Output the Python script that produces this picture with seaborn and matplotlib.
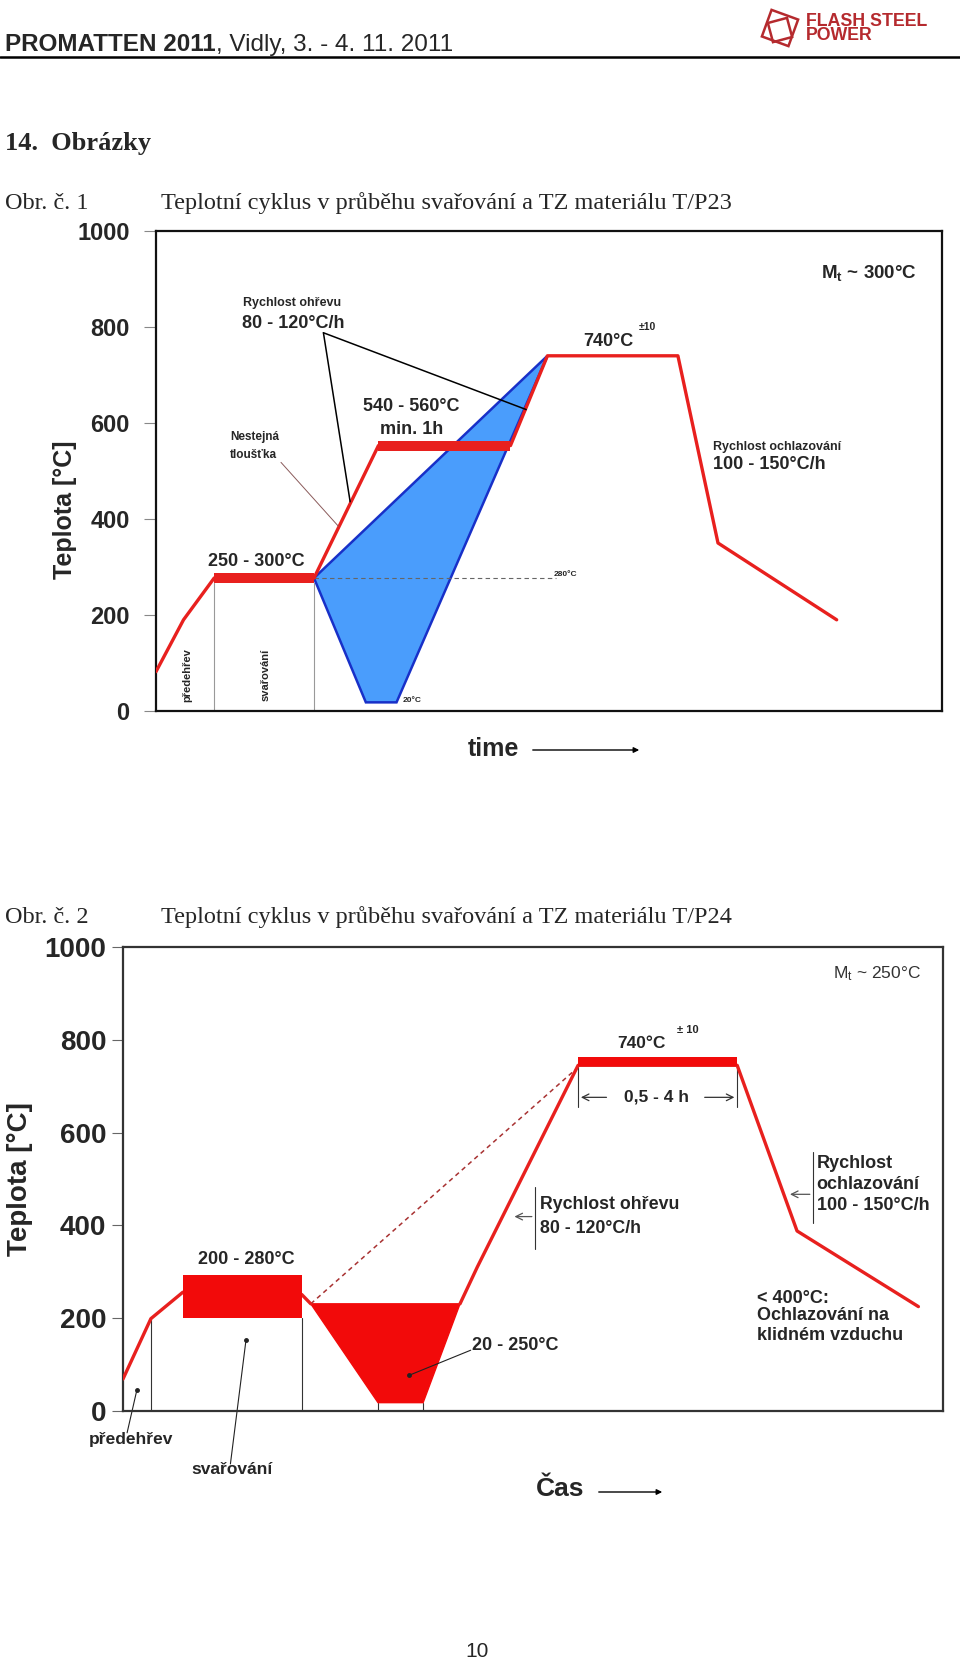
import matplotlib
matplotlib.use("Agg")
import matplotlib.pyplot as plt
import numpy as np
import pandas as pd
import seaborn as sns
from matplotlib.patches import Polygon, FancyArrowPatch

# ---------------- data ----------------
# Obr. 1 (T/P23)
c1_time = [0, 3.5, 7.4, 20.1, 28.3, 45.1, 49.8, 66.4, 71.5, 86.6]
c1_temp = [82, 190, 277, 277, 553, 553, 740, 740, 350, 190]
c1_bar_low = [7.4, 20.1]        # 250-300 °C hold
c1_bar_low_temp = [266, 288]
c1_bar_mid = [28.3, 45.1]       # 540-560 °C hold
c1_bar_mid_temp = [542, 563]
c1_blue_time = [20.1, 49.8, 30.6, 26.7]
c1_blue_temp = [277, 740, 18, 18]
c1_dash_temp = 277
c1_dash_time = [20.1, 50.9]
c1_vlines = [7.4, 20.1]
c1_yticks = [0, 200, 400, 600, 800, 1000]

# Obr. 2 (T/P24)
c2_time_a = [0, 3.4, 7.3, 21.8, 22.9]
c2_temp_a = [69, 199, 256, 251, 231]
c2_time_b = [41.1, 43.2, 55.5, 74.9, 82.2, 97.0]
c2_temp_b = [231, 310, 745, 745, 388, 225]
c2_rect_time = [7.3, 21.8]
c2_rect_temp = [200, 293]
c2_bar_time = [55.5, 74.9]
c2_bar_temp = [743, 762]
c2_trap_time = [22.9, 41.1, 36.6, 31.1]
c2_trap_temp = [231, 231, 18, 18]
c2_dash_time = [22.9, 55.5]
c2_dash_temp = [231, 741]
c2_vlines = [(3.4, 199), (21.8, 200), (31.1, 18), (36.6, 18)]
c2_yticks = [0, 200, 400, 600, 800, 1000]

# ---------------- style ----------------
sns.set_theme(style="white")
plt.rcParams["font.family"] = ["Liberation Sans", "DejaVu Sans"]
plt.rcParams["mathtext.fontset"] = "custom"
plt.rcParams["mathtext.rm"] = "Liberation Sans"
plt.rcParams["mathtext.bf"] = "Liberation Sans:bold"
plt.rcParams["mathtext.it"] = "Liberation Sans:italic"

RED = "#e8201e"
FILLRED = "#f20a0a"
BLUE = "#4a9dfc"
DBLUE = "#1830c8"

W, H = 960, 1663
fig = plt.figure(figsize=(9.6, 16.63), dpi=100)
fig.patch.set_facecolor("white")


def fx(x):
    return x / W


def fy(y):
    return 1 - y / H


# ---------------- page texts ----------------
r = fig.canvas.get_renderer()
t1 = fig.text(fx(5), fy(51), "PROMATTEN 2011", fontsize=17.5, fontweight="bold",
              va="baseline", ha="left")
bb = t1.get_window_extent(renderer=r)
fig.text(bb.x1 / W, fy(51), ", Vidly, 3. - 4. 11. 2011", fontsize=17.5,
         va="baseline", ha="left")
fig.add_artist(plt.Line2D([0, 1], [fy(57), fy(57)], transform=fig.transFigure,
                          color="black", lw=1.8))
# logo
logo_col = "#b52a2e"
for (cx, cy, s, a) in [(780, 28, 20, 20), (780, 30, 14, -15)]:
    ang = np.deg2rad(a + np.array([45, 135, 225, 315]))
    pts = [(fx(cx + s * np.cos(t)), fy(cy + s * np.sin(t))) for t in ang]
    fig.add_artist(Polygon(pts, closed=True, fill=False, edgecolor=logo_col,
                           lw=1.8, transform=fig.transFigure))
fig.text(fx(806), fy(26), "FLASH STEEL", fontsize=12.8, fontweight="bold",
         color=logo_col, va="baseline")
fig.text(fx(806), fy(40), "POWER", fontsize=12.8, fontweight="bold",
         color=logo_col, va="baseline")

serif = ["Liberation Serif", "DejaVu Serif"]
fig.text(fx(5), fy(150), "14.  Obrázky", fontsize=19, fontweight="bold",
         family=serif, va="baseline")
fig.text(fx(5), fy(209), "Obr. č. 1", fontsize=17.5, family=serif, va="baseline")
fig.text(fx(161), fy(209), "Teplotní cyklus v průběhu svařování a TZ materiálu T/P23",
         fontsize=17.5, family=serif, va="baseline")
fig.text(fx(5), fy(923), "Obr. č. 2", fontsize=17.5, family=serif, va="baseline")
fig.text(fx(161), fy(923), "Teplotní cyklus v průběhu svařování a TZ materiálu T/P24",
         fontsize=17.5, family=serif, va="baseline")
fig.text(fx(477), fy(1657), "10", fontsize=15, ha="center", va="baseline")

# ---------------- chart 1 ----------------
ax1 = fig.add_axes([fx(156), fy(711), 786 / W, 480 / H])
ax1.set_xlim(0, 100)
ax1.set_ylim(0, 1000)

ax1.add_patch(Polygon(list(zip(c1_blue_time, c1_blue_temp)), closed=True,
                      facecolor=BLUE, edgecolor=DBLUE, lw=1.8, zorder=2))
ax1.plot(c1_dash_time, [c1_dash_temp] * 2, ls=(0, (4, 3)), color="#666", lw=0.8, zorder=3)
for v in c1_vlines:
    ax1.plot([v, v], [0, c1_bar_low_temp[0]], color="#999", lw=0.8, zorder=1)

df1 = pd.DataFrame({"time": c1_time, "temp": c1_temp})
sns.lineplot(data=df1, x="time", y="temp", sort=False, color=RED, lw=2.4,
             ax=ax1, zorder=4, estimator=None)
ax1.fill_between(c1_bar_low, c1_bar_low_temp[0], c1_bar_low_temp[1], color=RED,
                 lw=0, zorder=5)
ax1.fill_between(c1_bar_mid, c1_bar_mid_temp[0], c1_bar_mid_temp[1], color=RED,
                 lw=0, zorder=5)

# annotation lines
ax1.plot([21.3, 24.7], [788, 436], color="black", lw=1.1, zorder=6)
ax1.plot([21.3, 47.1], [788, 628], color="black", lw=1.1, zorder=6)
ax1.plot([15.9, 23.2], [518, 385], color="#8a5a5a", lw=0.7, zorder=6)

ax1.text(11.1, 850, "Rychlost ohřevu", fontsize=9, fontweight="bold", va="center")
ax1.text(10.9, 808, "80 - 120°C/h", fontsize=13, fontweight="bold", va="center")
ax1.text(9.4, 571, "Nestejná", fontsize=8.5, fontweight="bold", va="center")
ax1.text(9.4, 533, "tloušťka", fontsize=8.5, fontweight="bold", va="center")
ax1.text(26.3, 635, "540 - 560°C", fontsize=13, fontweight="bold", va="center")
ax1.text(28.5, 586, "min. 1h", fontsize=13, fontweight="bold", va="center")
ax1.text(6.6, 312, "250 - 300°C", fontsize=13, fontweight="bold", va="center")
ax1.text(54.4, 770, "740°C", fontsize=13, fontweight="bold", va="center")
ax1.text(61.4, 800, "±10", fontsize=7.5, fontweight="bold", va="center")
ax1.text(84.6, 912, r"M$_\mathbf{t}$ ~ 300°C", fontsize=13.5, fontweight="bold", va="center")
ax1.text(70.9, 551, "Rychlost ochlazování", fontsize=9, fontweight="bold", va="center")
ax1.text(70.9, 513, "100 - 150°C/h", fontsize=13, fontweight="bold", va="center")
ax1.text(31.4, 22, "20°C", fontsize=6, fontweight="bold", va="center")
ax1.text(50.6, 285, "280°C", fontsize=6, fontweight="bold", va="center")
ax1.text(4.0, 75, "předehřev", fontsize=8, fontweight="bold", rotation=90,
         ha="center", va="center")
ax1.text(14.0, 75, "svařování", fontsize=8, fontweight="bold", rotation=90,
         ha="center", va="center")

ax1.set_yticks(c1_yticks)
ax1.set_yticklabels([str(v) for v in c1_yticks], fontsize=17, fontweight="bold")
ax1.set_xticks([])
ax1.tick_params(axis="y", direction="out", length=9, width=0.8, color="#888",
                left=True, pad=10)
ax1.set_xlabel("")
ax1.set_ylabel("Teplota [°C]", fontsize=18, fontweight="bold")
ax1.yaxis.set_label_coords(-0.1, 0.42)
for s in ax1.spines.values():
    s.set_color("#111")
    s.set_linewidth(1.6)
    s.set_visible(True)

fig.text(fx(493), fy(749), "time", fontsize=18, fontweight="bold",
         ha="center", va="center")
fig.add_artist(FancyArrowPatch(posA=(fx(530), fy(750)), posB=(fx(642), fy(750)),
                               transform=fig.transFigure, arrowstyle="-|>",
                               mutation_scale=8, lw=1.0, color="black"))

# ---------------- chart 2 ----------------
ax2 = fig.add_axes([fx(123), fy(1411), 820 / W, 464 / H])
ax2.set_xlim(0, 100)
ax2.set_ylim(0, 1000)

for v, top in c2_vlines:
    ax2.plot([v, v], [0, top], color="#333", lw=0.8, zorder=1)
ax2.add_patch(Polygon(list(zip(c2_trap_time, c2_trap_temp)), closed=True,
                      facecolor=FILLRED, edgecolor=FILLRED, lw=1, zorder=2))
ax2.plot(c2_dash_time, c2_dash_temp, ls=(0, (3, 2.5)), color="#a83232", lw=1.1, zorder=2)

df2a = pd.DataFrame({"time": c2_time_a, "temp": c2_temp_a})
df2b = pd.DataFrame({"time": c2_time_b, "temp": c2_temp_b})
sns.lineplot(data=df2a, x="time", y="temp", sort=False, color=RED, lw=2.4,
             ax=ax2, zorder=4, estimator=None)
sns.lineplot(data=df2b, x="time", y="temp", sort=False, color=RED, lw=2.4,
             ax=ax2, zorder=4, estimator=None)
ax2.fill_between(c2_rect_time, c2_rect_temp[0], c2_rect_temp[1], color=FILLRED,
                 lw=0, zorder=5)
ax2.fill_between(c2_bar_time, c2_bar_temp[0], c2_bar_temp[1], color=FILLRED,
                 lw=0, zorder=5)

# 0,5 - 4 h dimension
for v in c2_bar_time:
    ax2.plot([v, v], [c2_bar_temp[0], 655], color="#333", lw=0.8)
ax2.annotate("", xy=(c2_bar_time[0], 676), xytext=(59.3, 676),
             arrowprops=dict(arrowstyle="->", color="#333", lw=0.9))
ax2.annotate("", xy=(c2_bar_time[1], 676), xytext=(70.6, 676),
             arrowprops=dict(arrowstyle="->", color="#333", lw=0.9))
ax2.text(65.0, 676, "0,5 - 4 h", fontsize=12.5, fontweight="bold", ha="center", va="center")

# heating rate
ax2.plot([50.2, 50.2], [349, 482], color="#333", lw=0.8)
ax2.annotate("", xy=(47.4, 419), xytext=(50.2, 419),
             arrowprops=dict(arrowstyle="->", color="#555", lw=0.9))
ax2.text(50.8, 445, "Rychlost ohřevu", fontsize=12.8, fontweight="bold", va="center")
ax2.text(50.8, 394, "80 - 120°C/h", fontsize=12.8, fontweight="bold", va="center")

# cooling rate
ax2.plot([84.1, 84.1], [405, 559], color="#333", lw=0.8)
ax2.annotate("", xy=(81.0, 467), xytext=(84.1, 467),
             arrowprops=dict(arrowstyle="->", color="#555", lw=0.9))
ax2.text(84.6, 534, "Rychlost", fontsize=13, fontweight="bold", va="center")
ax2.text(84.6, 488, "ochlazování", fontsize=13, fontweight="bold", va="center")
ax2.text(84.6, 442, "100 - 150°C/h", fontsize=13, fontweight="bold", va="center")

ax2.text(77.3, 243, "< 400°C:", fontsize=13, fontweight="bold", va="center")
ax2.text(77.3, 206, "Ochlazování na", fontsize=13, fontweight="bold", va="center")
ax2.text(77.3, 163, "klidném vzduchu", fontsize=13, fontweight="bold", va="center")

ax2.text(15.0, 326, "200 - 280°C", fontsize=13, fontweight="bold", ha="center", va="center")
ax2.text(42.6, 141, "20 - 250°C", fontsize=13, fontweight="bold", va="center")
ax2.plot([42.4, 34.9], [131, 77], color="#222", lw=0.8)
ax2.plot([34.9], [77], marker="o", ms=2.5, color="#222")
ax2.text(60.3, 792, "740°C", fontsize=12.5, fontweight="bold", va="center")
ax2.text(67.6, 822, "± 10", fontsize=8, fontweight="bold", va="center")
ax2.text(86.6, 943, r"M$_\mathrm{t}$ ~ 250°C", fontsize=12.5, color="#333", va="center")

# předehřev / svařování pointers below axis
ax2.plot([1.7, 0.5], [46, -47], color="#222", lw=0.8, clip_on=False)
ax2.plot([1.7], [46], marker="o", ms=2.5, color="#222", clip_on=False)
ax2.text(1.0, -62, "předehřev", fontsize=12.5, fontweight="bold", ha="center", va="center")
ax2.plot([15.0, 13.1], [153, -114], color="#222", lw=0.8, clip_on=False)
ax2.plot([15.0], [153], marker="o", ms=2.5, color="#222", clip_on=False)
ax2.text(13.3, -125, "svařování", fontsize=12.5, fontweight="bold", ha="center", va="center")

ax2.set_yticks(c2_yticks)
ax2.set_yticklabels([str(v) for v in c2_yticks], fontsize=20, fontweight="bold")
ax2.set_xticks([])
ax2.tick_params(axis="y", direction="out", length=8, width=0.8, color="#666",
                left=True, pad=4)
ax2.set_xlabel("")
ax2.set_ylabel("Teplota [°C]", fontsize=20, fontweight="bold")
ax2.yaxis.set_label_coords(-0.11, 0.5)
for s in ax2.spines.values():
    s.set_color("#333")
    s.set_linewidth(1.6)
    s.set_visible(True)

fig.text(fx(560), fy(1489), "Čas", fontsize=19, fontweight="bold",
         ha="center", va="center")
fig.add_artist(FancyArrowPatch(posA=(fx(596), fy(1492)), posB=(fx(665), fy(1492)),
                               transform=fig.transFigure, arrowstyle="-|>",
                               mutation_scale=8, lw=1.0, color="black"))

fig.savefig("out.png", dpi=100, facecolor="white")
